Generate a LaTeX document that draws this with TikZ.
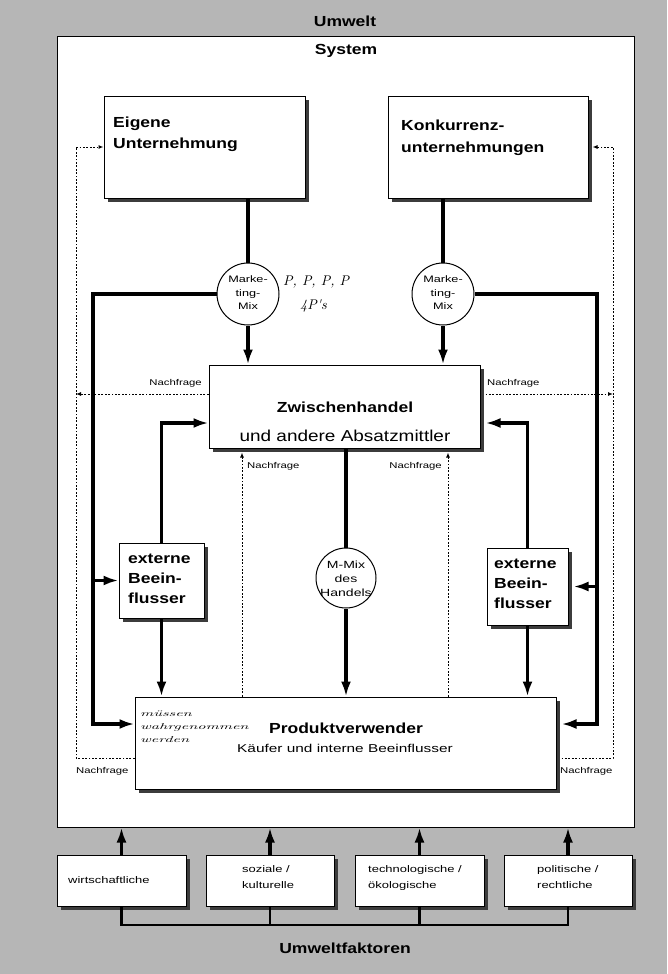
\documentclass[tikz,border=0pt]{standalone}
\usepackage{fontspec}
\usepackage{graphicx}
\setmainfont{Liberation Sans}[FakeStretch=1.2]
\newfontfamily\sm{Liberation Sans}[FakeStretch=1.35]
\newfontfamily\hand{lmroman10-italic.otf}
\newfontfamily\handw{lmroman10-italic.otf}[FakeStretch=1.9]
\usetikzlibrary{arrows.meta,shadows}
\definecolor{bg}{RGB}{182,182,182}
\definecolor{shad}{RGB}{60,60,60}
\begin{document}
\begin{tikzpicture}[x=1pt,y=-1pt,
  box/.style={draw, fill=white, line width=1pt, inner sep=0pt,
    drop shadow={shadow xshift=4pt,shadow yshift=-4pt,fill=shad,opacity=1}},
  circ/.style={draw, fill=white, circle, line width=1pt, inner sep=0pt},
  flow/.style={line width=3.2pt, -{Latex[length=15pt,width=10pt]}},
  flowline/.style={line width=3.2pt},
  busline/.style={line width=2.4pt},
  dem/.style={line width=1pt, dash pattern=on 1.8pt off 1.6pt, -{Latex[length=5pt,width=4pt]}},
  title/.style={font=\fontsize{14.6}{17}\selectfont\bfseries, inner sep=0pt},
  sub/.style={font=\fontsize{15.8}{18}\selectfont, inner sep=0pt},
  subsm/.style={font=\sm\fontsize{11.4}{13}\selectfont, inner sep=0pt},
  ftext/.style={font=\sm\fontsize{9.6}{11}\selectfont, inner sep=0pt},
  ntext/.style={font=\sm\fontsize{8.4}{10}\selectfont, inner sep=0pt},
  circtext/.style={font=\sm\fontsize{9.4}{13.5}\selectfont, align=center, inner sep=0pt},
  circtextb/.style={font=\sm\fontsize{10.4}{14}\selectfont, align=center, inner sep=0pt},
  handtext/.style={font=\hand\fontsize{14}{14}\selectfont, inner sep=0pt},
  handsmall/.style={font=\handw\fontsize{8.5}{9}\selectfont, inner sep=0pt}
]
\useasboundingbox (0,0) rectangle (667,974);
\fill[bg] (0,0) rectangle (667,974);

% system
\node[draw, fill=white, line width=1pt, minimum width=577pt, minimum height=790pt, inner sep=0pt] (sys) at (345.5,432) {};
\node[title, anchor=base] (umw) at (345,27) {Umwelt};
\node[title, anchor=base] (systxt) at (346,55) {System};

% companies
\node[box, minimum width=201pt, minimum height=102pt] (eig) at (204.5,147) {};
\node[title, anchor=base west] (eig1) at (113,127) {Eigene};
\node[title, anchor=base west] (eig2) at (113,148) {Unternehmung};
\node[box, minimum width=200pt, minimum height=102pt] (kon) at (488,147) {};
\node[title, anchor=base west] (kon1) at (401,130) {Konkurrenz-};
\node[title, anchor=base west] (kon2) at (401,152) {unternehmungen};

% marketing mix circles
\node[circ, minimum size=62pt] (mmL) at (248,294) {};
\node[circtext] (mmLt) at (248,293) {Marke-\\ting-\\Mix};
\node[circ, minimum size=62pt] (mmR) at (443,294) {};
\node[circtext] (mmRt) at (443,293) {Marke-\\ting-\\Mix};
\node[handtext, anchor=base west] (hw1) at (283,285) {P, P, P, P};
\node[handtext, anchor=base west] (hw2) at (300,309) {4P's};

% trade
\node[box, minimum width=271pt, minimum height=83pt] (zw) at (344.5,406.5) {};
\node[title, anchor=base] (zw1) at (345,412) {Zwischenhandel};
\node[sub, anchor=base] (zw2) at (345,441) {und andere Absatzmittler};

% external influencers
\node[box, minimum width=85pt, minimum height=75pt] (exL) at (161.5,580.5) {};
\node[title, anchor=base west] (exL1) at (128,563) {externe};
\node[title, anchor=base west] (exL2) at (128,583) {Beein-};
\node[title, anchor=base west] (exL3) at (128,603) {flusser};
\node[box, minimum width=81pt, minimum height=77pt] (exR) at (527.5,586.5) {};
\node[title, anchor=base west] (exR1) at (494,568) {externe};
\node[title, anchor=base west] (exR2) at (494,588) {Beein-};
\node[title, anchor=base west] (exR3) at (494,608) {flusser};

% trade mix
\node[circ, minimum size=60pt] (mmH) at (346,578) {};
\node[circtextb] (mmHt) at (346,579) {M-Mix\\des\\Handels};

% product users
\node[box, minimum width=421pt, minimum height=92pt] (prod) at (345.5,743) {};
\node[title, anchor=base] (prod1) at (346,733) {Produktverwender};
\node[subsm, anchor=base] (prod2) at (345,752) {Käufer und interne Beeinflusser};
\node[handsmall, anchor=base west] (hw3) at (140,716) {müssen};
\node[handsmall, anchor=base west] (hw4) at (140,729) {wahrgenommen};
\node[handsmall, anchor=base west] (hw5) at (140,742) {werden};

% environment factors
\node[box, minimum width=129pt, minimum height=51pt] (f1) at (121.5,880.5) {};
\node[ftext, anchor=base west] (f1t) at (68,883) {wirtschaftliche};
\node[box, minimum width=128pt, minimum height=51pt] (f2) at (270,880.5) {};
\node[ftext, anchor=base west] (f2a) at (242,872) {soziale /};
\node[ftext, anchor=base west] (f2b) at (242,888) {kulturelle};
\node[box, minimum width=129pt, minimum height=51pt] (f3) at (419.5,880.5) {};
\node[ftext, anchor=base west] (f3a) at (368,872) {technologische /};
\node[ftext, anchor=base west] (f3b) at (368,888) {ökologische};
\node[box, minimum width=128pt, minimum height=51pt] (f4) at (568,880.5) {};
\node[ftext, anchor=base west] (f4a) at (537,872) {politische /};
\node[ftext, anchor=base west] (f4b) at (537,888) {rechtliche};
\node[title, anchor=base] (uwf) at (345,953) {Umweltfaktoren};

% factor arrows and bus
\draw[flow] (f1.north) -- (f1.north |- sys.south);
\draw[flow] (f2.north) -- (f2.north |- sys.south);
\draw[flow] (f3.north) -- (f3.north |- sys.south);
\draw[flow] (f4.north) -- (f4.north |- sys.south);
\coordinate (bus) at (0,925);
\draw[busline] (f1.south) -- (f1.south |- bus) -- (f4.south |- bus) -- (f4.south);
\draw[busline] (f2.south) -- (f2.south |- bus);
\draw[busline] (f3.south) -- (f3.south |- bus);

% thick flows
\draw[flowline] (mmL.north |- eig.south) -- (mmL.north);
\draw[flow] (mmL.south) -- (mmL.south |- zw.north);
\draw[flowline] (mmR.north |- kon.south) -- (mmR.north);
\draw[flow] (mmR.south) -- (mmR.south |- zw.north);

\coordinate (lx) at (93,0);
\coordinate (rx) at (597,0);
\coordinate (pL) at ([yshift=19pt]prod.west);
\coordinate (pR) at ([xshift=5pt,yshift=19pt]prod.east);
\draw[flow] (mmL.west) -- (mmL.west -| lx) -- (lx |- pL) -- (pL);
\draw[flow] (lx |- exL.west) -- (exL.west);
\draw[flow] (mmR.east) -- (mmR.east -| rx) -- (rx |- pR) -- (pR);
\coordinate (exRe) at ([xshift=5pt]exR.east);
\draw[flow] (rx |- exRe) -- (exRe);

\coordinate (zL) at ([yshift=-16.5pt]zw.west);
\coordinate (zR) at ([xshift=5pt,yshift=-16.5pt]zw.east);
\draw[flow] (exL.north) |- (zL);
\draw[flow] (exR.north) |- (zR);
\draw[flow] (exL.south) -- (exL.south |- prod.north);
\draw[flow] (exR.south) -- (exR.south |- prod.north);
\draw[flowline] (mmH.north |- zw.south) -- (mmH.north);
\draw[flow] (mmH.south) -- (mmH.south |- prod.north);

% demand (dotted)
\coordinate (dl) at (76,758);
\coordinate (dr) at (613,758);
\coordinate (konE) at ([xshift=4pt]kon.east);
\coordinate (prodE) at ([xshift=5pt]prod.east);
\draw[dem] (dl -| prod.west) -- (dl) -- (dl |- eig.west) -- (eig.west);
\draw[dem] (dr -| prodE) -- (dr) -- (dr |- konE) -- (konE);
\coordinate (zwl) at ([yshift=12.5pt]zw.west);
\coordinate (zwr) at ([xshift=5pt,yshift=12.5pt]zw.east);
\draw[dem] (zwl) -- (zwl -| dl);
\draw[dem] (zwr) -- (zwr -| dr);
\coordinate (vl) at (242,0);
\coordinate (vr) at (448,0);
\coordinate (zwb) at ([yshift=-4pt]zw.south);
\draw[dem] (vl |- prod.north) -- (vl |- zwb);
\draw[dem] (vr |- prod.north) -- (vr |- zwb);

\node[ntext, anchor=base east] (n1) at (202,385) {Nachfrage};
\node[ntext, anchor=base west] (n2) at (487,385) {Nachfrage};
\node[ntext, anchor=base west] (n3) at (247,468) {Nachfrage};
\node[ntext, anchor=base east] (n4) at (442,468) {Nachfrage};
\node[ntext, anchor=base west] (n5) at (76,773) {Nachfrage};
\node[ntext, anchor=base west] (n6) at (560,773) {Nachfrage};
\end{tikzpicture}
\end{document}
